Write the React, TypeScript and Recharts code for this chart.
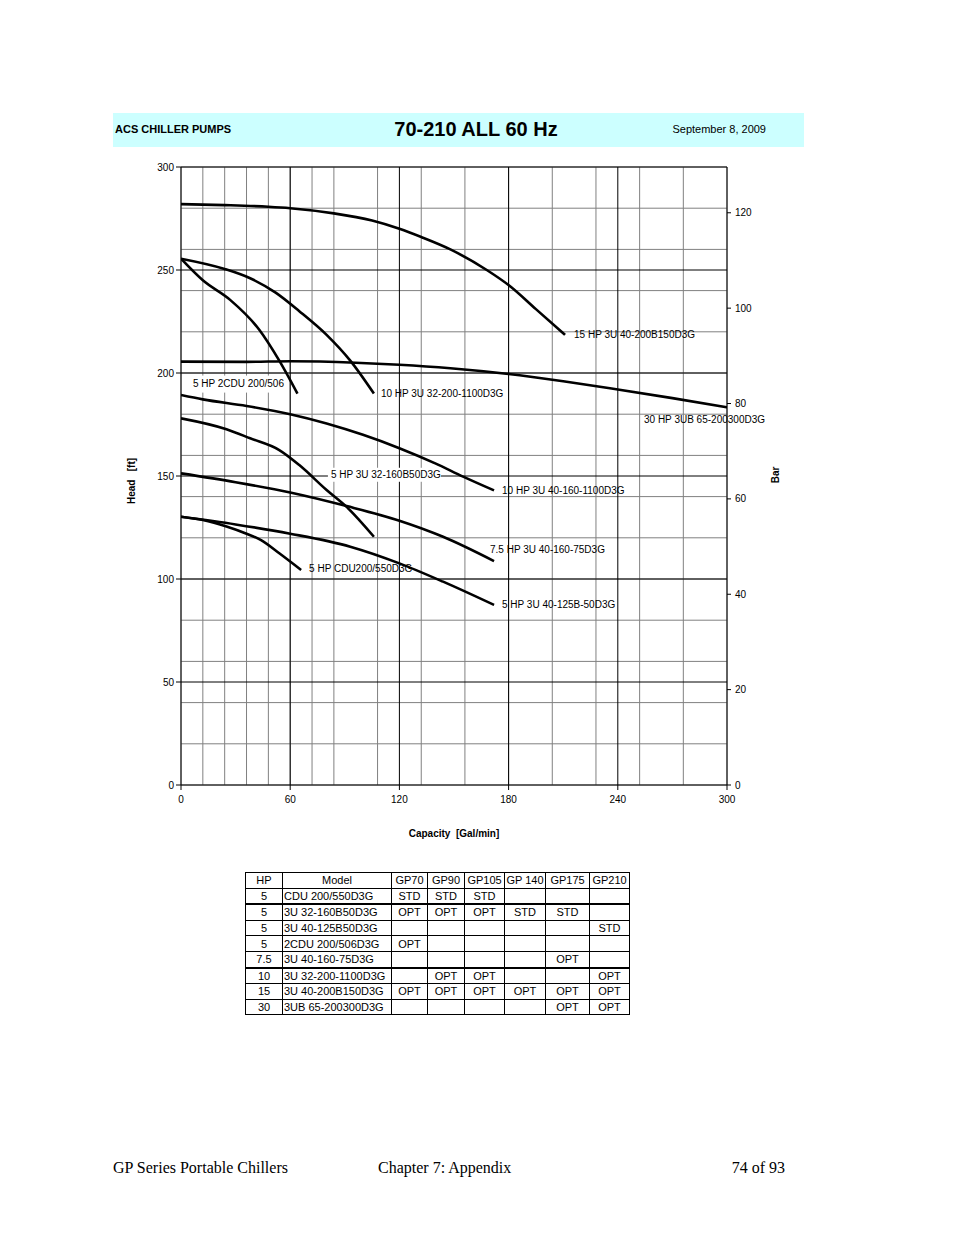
import React from 'react';
import { LineChart, Line, XAxis, YAxis, CartesianGrid, LabelList } from 'recharts';

// ---- axis ticks ----
const capacityTicks = [0, 60, 120, 180, 240, 300];
const headTicks = [0, 50, 100, 150, 200, 250, 300];
const barTicks = [0, 20, 40, 60, 80, 100, 120];

// ---- pump curves: q = capacity [Gal/min], h = head [ft] ----
const pump15hp = [
  { q: 0, h: 282 }, { q: 24, h: 281.5 }, { q: 48, h: 280.7 }, { q: 60, h: 280 },
  { q: 84, h: 277.5 }, { q: 105, h: 274 }, { q: 120, h: 270 }, { q: 132, h: 266 },
  { q: 148, h: 260 }, { q: 168, h: 250 }, { q: 181, h: 242 }, { q: 195, h: 231 },
  { q: 211, h: 218.5 },
];
const pump30hp = [
  { q: 0, h: 205.5 }, { q: 36, h: 205.4 }, { q: 60, h: 205.7 }, { q: 96, h: 205 },
  { q: 120, h: 204 }, { q: 148, h: 202.3 }, { q: 180, h: 199.5 }, { q: 210, h: 196 },
  { q: 240, h: 192 }, { q: 270, h: 187.8 }, { q: 300, h: 183.3 },
];
const pump10hp32 = [
  { q: 0, h: 255.5 }, { q: 24, h: 250.5 }, { q: 38, h: 246 }, { q: 52, h: 239 },
  { q: 65, h: 230 }, { q: 80, h: 218.5 }, { q: 93, h: 206 }, { q: 106, h: 190 },
];
const pump5hp2cdu = [
  { q: 0, h: 255.5 }, { q: 12, h: 245 }, { q: 27, h: 235.5 }, { q: 43, h: 221 },
  { q: 54, h: 206 }, { q: 64, h: 190 },
];
const pump10hp40 = [
  { q: 0, h: 189.3 }, { q: 12, h: 187.2 }, { q: 36, h: 184 }, { q: 60, h: 180 },
  { q: 80, h: 175.5 }, { q: 100, h: 170 }, { q: 120, h: 163.5 }, { q: 140, h: 156 },
  { q: 155, h: 149.7 }, { q: 172, h: 143 },
];
const pump5hp32 = [
  { q: 0, h: 178 }, { q: 25, h: 172.7 }, { q: 38, h: 168.3 }, { q: 54, h: 162.6 },
  { q: 65, h: 155.3 }, { q: 80, h: 143.2 }, { q: 91, h: 135 }, { q: 106, h: 120.5 },
];
const pump75hp = [
  { q: 0, h: 151.3 }, { q: 30, h: 147 }, { q: 60, h: 142 }, { q: 91, h: 135.4 },
  { q: 120, h: 128.3 }, { q: 144, h: 120.5 }, { q: 172, h: 108.7 },
];
const pump5hp40 = [
  { q: 0, h: 130.2 }, { q: 30, h: 126.5 }, { q: 60, h: 122 }, { q: 93, h: 115.7 },
  { q: 120, h: 107.6 }, { q: 144, h: 98.7 }, { q: 172, h: 87.4 },
];
const pump5hpCdu = [
  { q: 0, h: 130.2 }, { q: 12, h: 128.6 }, { q: 25, h: 125.5 }, { q: 36, h: 122 },
  { q: 44, h: 118.9 }, { q: 54, h: 112.5 }, { q: 66, h: 104.4 },
];

// ---- table ----
const tableHeader = ['HP', 'Model', 'GP70', 'GP90', 'GP105', 'GP 140', 'GP175', 'GP210'];
const tableHp = ['5', '5', '5', '5', '7.5', '10', '15', '30'];
const tableModel = ['CDU 200/550D3G', '3U 32-160B50D3G', '3U 40-125B50D3G', '2CDU 200/506D3G', '3U 40-160-75D3G', '3U 32-200-1100D3G', '3U 40-200B150D3G', '3UB 65-200300D3G'];
const tableCells = [
  ['STD', 'STD', 'STD', '', '', ''],
  ['OPT', 'OPT', 'OPT', 'STD', 'STD', ''],
  ['', '', '', '', '', 'STD'],
  ['OPT', '', '', '', '', ''],
  ['', '', '', '', 'OPT', ''],
  ['', 'OPT', 'OPT', '', '', 'OPT'],
  ['OPT', 'OPT', 'OPT', 'OPT', 'OPT', 'OPT'],
  ['', '', '', '', 'OPT', 'OPT'],
];

const series = [
  { name: '15 HP 3U 40-200B150D3G', data: pump15hp, dx: 9, dy: 0 },
  { name: '30 HP 3UB 65-200300D3G', data: pump30hp, dx: -83, dy: 12 },
  { name: '10 HP 3U 32-200-1100D3G', data: pump10hp32, dx: 7, dy: 0 },
  { name: '5 HP 2CDU 200/506', data: pump5hp2cdu, dx: -104.5, dy: -10, bg: { left: 11, width: 104, top: 8, height: 17 } },
  { name: '10 HP 3U 40-160-1100D3G', data: pump10hp40, dx: 8, dy: 0 },
  { name: '5 HP 3U 32-160B50D3G', data: pump5hp32, dx: -43, dy: -62, bg: { left: 3, width: 113, top: 7, height: 14 } },
  { name: '7.5 HP 3U 40-160-75D3G', data: pump75hp, dx: -4, dy: -12 },
  { name: '5 HP CDU200/550D3G', data: pump5hpCdu, dx: 8, dy: -1 },
  { name: '5 HP 3U 40-125B-50D3G', data: pump5hp40, dx: 8, dy: 0 },
];

const minorX = Array.from({ length: 26 }, (_, i) => i * 12);
const minorY = Array.from({ length: 31 }, (_, i) => i * 10);

const FONT = '"Liberation Sans", Arial, sans-serif';

function makeLabel(s: any) {
  const last = s.data.length - 1;
  return (props: any) => {
    if (props.index !== last) return null;
    const x = Number(props.x) + s.dx;
    const y = Number(props.y) + s.dy;
    return (
      <g key={s.name}>
        {s.bg && (
          <rect x={x - s.bg.left} y={y - s.bg.top} width={s.bg.width} height={s.bg.height} fill="#fff" />
        )}
        <text x={x} y={y} dy="0.35em" fontSize={10} fontFamily={FONT} fill="#000" textAnchor="start">
          {s.name}
        </text>
      </g>
    );
  };
}

const tickStyle = { fontSize: 10, fontFamily: FONT, fill: '#000' };

function Chart() {
  return (
    <LineChart width={700} height={720} margin={{ top: 17, right: 40, left: 0, bottom: 0 }}>
      <CartesianGrid stroke="#808080" strokeWidth={1} verticalValues={minorX} horizontalValues={minorY} />
      <CartesianGrid stroke="#000" strokeWidth={1} verticalValues={capacityTicks} horizontalValues={headTicks} />
      <XAxis
        dataKey="q"
        type="number"
        domain={[0, 300]}
        ticks={capacityTicks}
        allowDataOverflow
        height={85}
        axisLine={false}
        tickSize={5}
        tickMargin={6}
        tickLine={{ stroke: '#000' }}
        tick={tickStyle}
        label={{
          value: 'Capacity  [Gal/min]',
          content: (p: any) => {
            const vb = p.viewBox;
            return (
              <text x={vb.x + vb.width / 2} y={vb.y + 48} dy="0.35em" textAnchor="middle" fontSize={10} fontWeight="bold" fontFamily={FONT} fill="#000" style={{ whiteSpace: 'pre' }}>
                Capacity  [Gal/min]
              </text>
            );
          },
        }}
      />
      <YAxis
        type="number"
        domain={[0, 300]}
        ticks={headTicks}
        allowDataOverflow
        width={81}
        axisLine={false}
        tickSize={5}
        tickLine={{ stroke: '#000' }}
        tick={tickStyle}
        label={{
          value: 'Head   [ft]',
          content: (p: any) => {
            const vb = p.viewBox;
            const cx = 31;
            const cy = vb.y + vb.height / 2 + 5;
            return (
              <text x={cx} y={cy} transform={`rotate(-90 ${cx} ${cy})`} dy="0.35em" textAnchor="middle" fontSize={10} fontWeight="bold" fontFamily={FONT} fill="#000" style={{ whiteSpace: 'pre' }}>
                Head   [ft]
              </text>
            );
          },
        }}
      />
      <YAxis
        yAxisId="bar"
        orientation="right"
        type="number"
        domain={[0, 129.6]}
        ticks={barTicks}
        allowDataOverflow
        width={33}
        axisLine={false}
        tickSize={4}
        tickMargin={4}
        tickLine={{ stroke: '#000' }}
        tick={tickStyle}
        label={{
          value: 'Bar',
          content: (p: any) => {
            const vb = p.viewBox;
            const cx = 675;
            const cy = vb.y + vb.height / 2 - 1;
            return (
              <text x={cx} y={cy} transform={`rotate(-90 ${cx} ${cy})`} dy="0.35em" textAnchor="middle" fontSize={10} fontWeight="bold" fontFamily={FONT} fill="#000">
                Bar
              </text>
            );
          },
        }}
      />
      {series.map((s) => (
        <Line
          key={s.name}
          data={s.data}
          dataKey="h"
          name={s.name}
          type="monotone"
          stroke="#000"
          strokeWidth={2.6}
          dot={false}
          activeDot={false}
          isAnimationActive={false}
        >
          <LabelList dataKey="h" content={makeLabel(s)} />
        </Line>
      ))}
    </LineChart>
  );
}

const colWidths = [37, 109, 36, 37, 40, 41, 44, 40];

function PumpTable() {
  const cell = (extra: any = {}) => ({
    border: '1px solid #000',
    padding: 0,
    height: 14.6,
    lineHeight: '14px',
    fontSize: 11,
    fontFamily: FONT,
    textAlign: 'center' as const,
    whiteSpace: 'nowrap' as const,
    overflow: 'hidden',
    ...extra,
  });
  const thick = (r: number) => (r === 0 || r === 4 ? '2px solid #000' : '1px solid #000');
  return (
    <table style={{ position: 'absolute', left: 245, top: 872, borderCollapse: 'collapse', tableLayout: 'fixed', width: 384 }}>
      <colgroup>
        {colWidths.map((w, i) => (
          <col key={i} style={{ width: w }} />
        ))}
      </colgroup>
      <tbody>
        <tr>
          {tableHeader.map((h, i) => (
            <td key={i} style={cell({ fontWeight: 'normal' })}>{h}</td>
          ))}
        </tr>
        {tableHp.map((hp, r) => (
          <tr key={r}>
            <td style={cell({ borderBottom: thick(r) })}>{hp}</td>
            <td style={cell({ textAlign: 'left', paddingLeft: 1, borderBottom: thick(r) })}>{tableModel[r]}</td>
            {tableCells[r].map((v, c) => (
              <td key={c} style={cell({ borderBottom: thick(r) })}>{v}</td>
            ))}
          </tr>
        ))}
      </tbody>
    </table>
  );
}

export default function App() {
  return (
    <div style={{ position: 'absolute', left: 0, top: 0, width: 954, height: 1235, background: '#fff' }}>
      <div
        style={{
          position: 'absolute', left: 113, top: 113, width: 691, height: 34, background: '#ccffff',
          fontFamily: FONT, color: '#000',
        }}
      >
        <div style={{ position: 'absolute', left: 2, top: 0, height: 32, lineHeight: '32px', fontSize: 11, fontWeight: 'bold' }}>
          ACS CHILLER PUMPS
        </div>
        <div style={{ position: 'absolute', left: 0, width: 726, top: 0, height: 32, lineHeight: '32px', fontSize: 20, fontWeight: 'bold', textAlign: 'center' }}>
          70-210 ALL 60 Hz
        </div>
        <div style={{ position: 'absolute', right: 38, top: 0, height: 32, lineHeight: '32px', fontSize: 11 }}>
          September 8, 2009
        </div>
      </div>
      <div style={{ position: 'absolute', left: 100, top: 150 }}>
        <Chart />
      </div>
      <PumpTable />
      <div style={{ position: 'absolute', left: 113, top: 1158, fontFamily: '"Liberation Serif", "Times New Roman", serif', fontSize: 16, lineHeight: '20px' }}>
        GP Series Portable Chillers
      </div>
      <div style={{ position: 'absolute', left: 378, top: 1158, fontFamily: '"Liberation Serif", "Times New Roman", serif', fontSize: 16, lineHeight: '20px' }}>
        Chapter 7: Appendix
      </div>
      <div style={{ position: 'absolute', right: 954 - 785, top: 1158, fontFamily: '"Liberation Serif", "Times New Roman", serif', fontSize: 16, lineHeight: '20px' }}>
        74 of 93
      </div>
    </div>
  );
}
